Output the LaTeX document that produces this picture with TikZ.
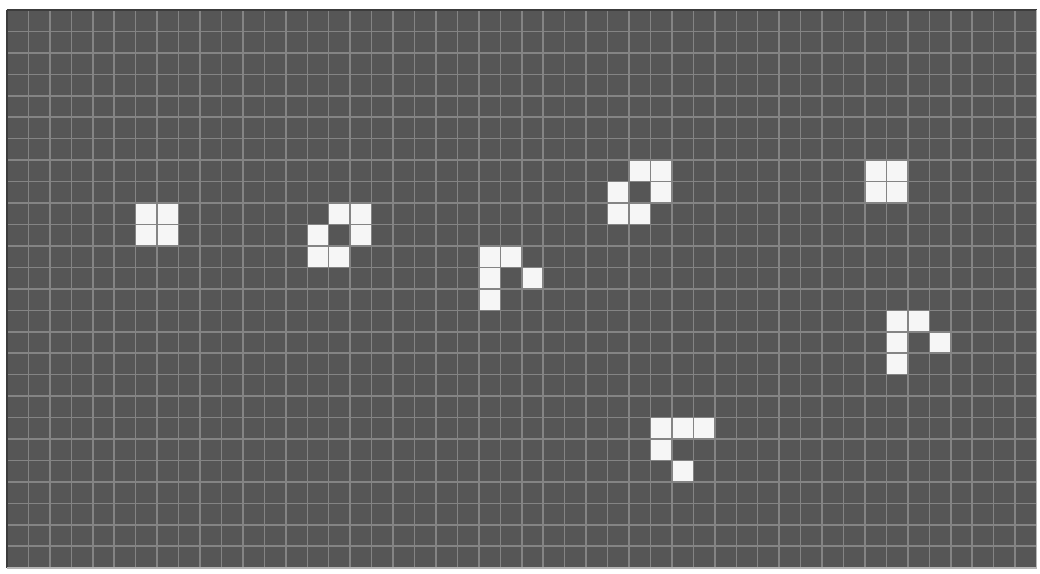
\documentclass[tikz,border=0pt]{standalone}
\usepackage{xcolor}
\definecolor{boardgray}{RGB}{86, 86, 86}
\definecolor{gridgray}{RGB}{132, 132, 132}
\definecolor{framegray}{RGB}{60, 60, 60}
\definecolor{livewhite}{RGB}{246, 246, 246}

\begin{document}
\begin{tikzpicture}[
    x=0.5cm, y=-0.5cm,
    gridline/.style={gridgray, line width=1pt},
    live/.style={fill=#1},
    live/.default=livewhite
]

    % Page size
    \useasboundingbox (-0.326, -0.466) rectangle (48.16, 26.29);

    % Board
    \fill[boardgray] (0,0) rectangle (48,26);

    % Live cells
    \foreach \c/\r in {6/9, 7/9, 6/10, 7/10,
                       15/9, 16/9, 14/10, 16/10, 14/11, 15/11,
                       22/11, 23/11, 22/12, 24/12, 22/13,
                       29/7, 30/7, 28/8, 30/8, 28/9, 29/9,
                       40/7, 41/7, 40/8, 41/8,
                       41/14, 42/14, 41/15, 43/15, 41/16,
                       30/19, 31/19, 32/19, 30/20, 31/21}
        \fill[live] (\c,\r) rectangle ++(1,1);

    % Grid lines
    \foreach \c in {0,...,48}
        \draw[gridline] (\c,0) -- (\c,26);
    \foreach \r in {0,...,26}
        \draw[gridline] (0,\r) -- (48,\r);

    % Frame
    \draw[framegray, line width=0.8pt] (0,0) -- (48,0);
    \draw[framegray, line width=0.8pt] (0,0) -- (0,26);
    \draw[gridgray!60!white, line width=1.2pt] (0,26) -- (48,26) -- (48,0);

\end{tikzpicture}
\end{document}
